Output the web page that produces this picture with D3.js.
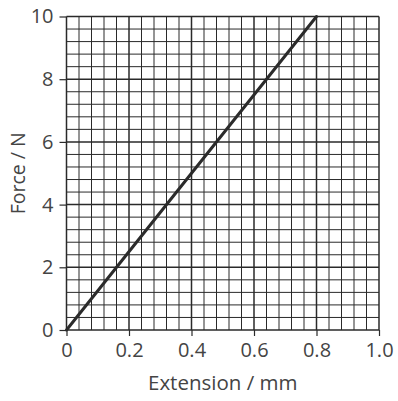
<!DOCTYPE html>
<html>
<head>
<meta charset="utf-8">
<script src="https://cdn.jsdelivr.net/npm/d3@7"></script>
<style>
  body { margin: 0; background: #fff; }
  text { font-family: "Open Sans", sans-serif; fill: #444; }
</style>
</head>
<body>
<div id="chart"></div>
<script>
// Data
const extension = [0, 0.8];   // mm
const force = [0, 10];        // N
const xTicks = [0, 0.2, 0.4, 0.6, 0.8, 1.0];
const xTickLabels = ["0", "0.2", "0.4", "0.6", "0.8", "1.0"];
const yTicks = [0, 2, 4, 6, 8, 10];
const yTickLabels = ["0", "2", "4", "6", "8", "10"];

const W = 398, H = 401;
const margin = { top: 16.5, right: 19, bottom: 71, left: 66.5 };
const width = W - margin.left - margin.right;
const height = H - margin.top - margin.bottom;

const svg = d3.select("#chart")
    .append("svg")
    .attr("width", W)
    .attr("height", H)
    .append("g")
    .attr("transform", "translate(" + margin.left + "," + margin.top + ")");

const xScale = d3.scaleLinear().domain([0, 1]).range([0, width]);
const yScale = d3.scaleLinear().domain([0, 10]).range([height, 0]);

// minor grid: 25 squares each way
const xGrid = d3.range(26).map(i => i * 0.04);
const yGrid = d3.range(26).map(i => i * 0.4);

svg.selectAll(".vgrid")
    .data(xGrid)
    .enter().append("line")
    .attr("x1", d => xScale(d)).attr("x2", d => xScale(d))
    .attr("y1", 0).attr("y2", height)
    .attr("stroke", "#2a2a2a")
    .attr("stroke-width", (d, i) => i % 5 === 0 ? 1.5 : 1);

svg.selectAll(".hgrid")
    .data(yGrid)
    .enter().append("line")
    .attr("x1", 0).attr("x2", width)
    .attr("y1", d => yScale(d)).attr("y2", d => yScale(d))
    .attr("stroke", "#2a2a2a")
    .attr("stroke-width", (d, i) => i % 5 === 0 ? 1.5 : 1);

// X axis
const xAxis = svg.append("g")
    .attr("transform", "translate(0," + height + ")")
    .call(d3.axisBottom(xScale)
        .tickValues(xTicks)
        .tickFormat((d, i) => xTickLabels[i])
        .tickSize(6)
        .tickPadding(7));
xAxis.select(".domain").remove();
xAxis.selectAll("line").attr("stroke", "#2a2a2a").attr("stroke-width", 1.2);
xAxis.selectAll("text").style("font-size", "20px").attr("fill", "#444");

// Y axis
const yAxis = svg.append("g")
    .call(d3.axisLeft(yScale)
        .tickValues(yTicks)
        .tickFormat((d, i) => yTickLabels[i])
        .tickSize(7)
        .tickPadding(6));
yAxis.select(".domain").remove();
yAxis.selectAll("line").attr("stroke", "#2a2a2a").attr("stroke-width", 1.2);
yAxis.selectAll("text").style("font-size", "20px").attr("fill", "#444");

// Data line
const line = d3.line()
    .x((d, i) => xScale(extension[i]))
    .y(d => yScale(d));

svg.append("path")
    .datum(force)
    .attr("d", line)
    .attr("fill", "none")
    .attr("stroke", "#2b2b2b")
    .attr("stroke-width", 3)
    .attr("stroke-linecap", "round");

// Axis titles
svg.append("text")
    .attr("x", width / 2)
    .attr("y", height + 60)
    .attr("text-anchor", "middle")
    .style("font-size", "20.5px")
    .text("Extension / mm");

svg.append("text")
    .attr("transform", "rotate(-90)")
    .attr("x", -height / 2)
    .attr("y", -41.5)
    .attr("text-anchor", "middle")
    .style("font-size", "19.5px")
    .text("Force / N");
</script>
</body>
</html>
